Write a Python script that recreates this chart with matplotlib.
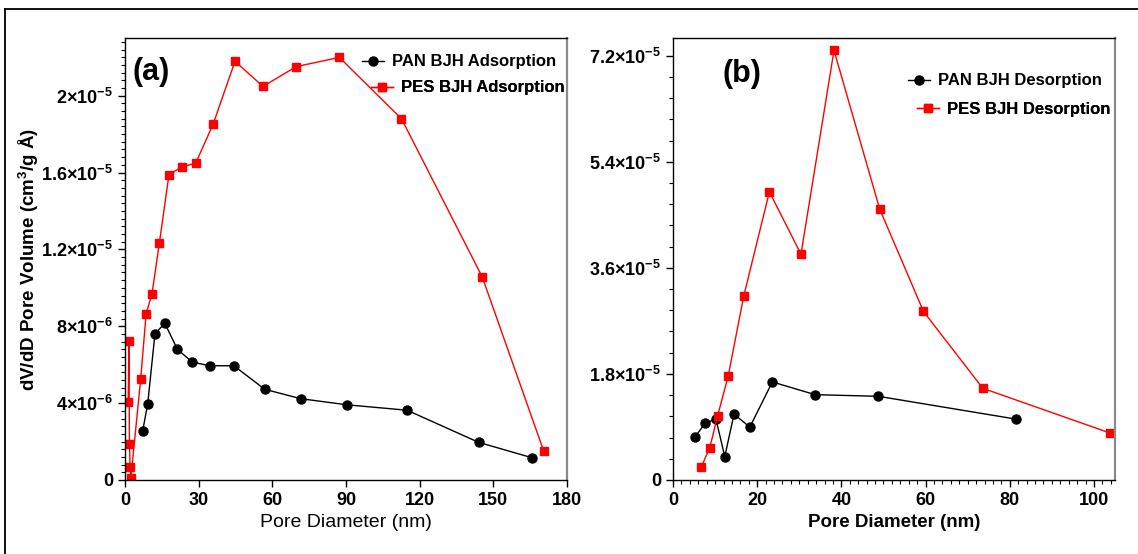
import numpy as np
import matplotlib
matplotlib.use("Agg")
import matplotlib.pyplot as plt
from matplotlib.ticker import MultipleLocator, FuncFormatter, NullLocator
from matplotlib.lines import Line2D

plt.rcParams['font.family'] = ['Liberation Sans', 'DejaVu Sans']
plt.rcParams['mathtext.fontset'] = 'custom'
plt.rcParams['mathtext.rm'] = 'Liberation Sans:bold'
plt.rcParams['mathtext.it'] = 'Liberation Sans:bold'
plt.rcParams['mathtext.bf'] = 'Liberation Sans:bold'

# (a) adsorption
pan_ads_d = [7.2, 9.25, 12.2, 16.2, 21.3, 27.4, 34.5, 44.4, 56.9, 71.6, 90.6, 114.9, 144.0, 165.7]
pan_ads_v = [2.55e-6, 3.97e-6, 7.6e-6, 8.16e-6, 6.81e-6, 6.13e-6, 5.95e-6, 5.94e-6,
             4.72e-6, 4.23e-6, 3.91e-6, 3.63e-6, 1.96e-6, 1.16e-6]
pes_ads_d = [1.3, 1.6, 1.8, 2.1, 2.4, 6.4, 8.6, 11.0, 14.0, 17.9, 23.1, 28.8, 35.9,
             44.8, 56.2, 69.7, 87.3, 112.6, 145.5, 170.5]
pes_ads_v = [4.08e-6, 7.24e-6, 1.87e-6, 0.69e-6, 0.12e-6, 5.26e-6, 8.65e-6, 9.70e-6,
             1.233e-5, 1.589e-5, 1.629e-5, 1.649e-5, 1.852e-5, 2.179e-5, 2.048e-5,
             2.151e-5, 2.199e-5, 1.880e-5, 1.056e-5, 1.51e-6]

# (b) desorption
pan_des_d = [5.25, 7.6, 10.2, 12.3, 14.5, 18.25, 23.6, 33.75, 48.8, 81.5]
pan_des_v = [7.32e-6, 9.6e-6, 1.033e-5, 3.97e-6, 1.119e-5, 8.97e-6, 1.664e-5,
             1.448e-5, 1.42e-5, 1.033e-5]
pes_des_d = [6.75, 8.75, 10.6, 13.1, 16.8, 22.9, 30.4, 38.25, 49.1, 59.5, 73.6, 103.7]
pes_des_v = [2.27e-6, 5.51e-6, 1.09e-5, 1.76e-5, 3.12e-5, 4.89e-5, 3.832e-5,
             7.29e-5, 4.598e-5, 2.86e-5, 1.556e-5, 8.0e-6]


def sci_fmt(v, pos):
    if abs(v) < 1e-12:
        return '0'
    e = int(np.floor(np.log10(abs(v)) + 1e-9))
    m = v / 10 ** e
    return '%g×10$^{%d}$' % (round(m, 2), e)


def style_axes(ax):
    for s in ['left', 'bottom', 'top']:
        ax.spines[s].set_color('black')
        ax.spines[s].set_linewidth(1.0)
    ax.spines['right'].set_color('#8a8a8a')
    ax.spines['right'].set_linewidth(1.6)
    ax.tick_params(direction='out', which='major', length=5, width=1, labelsize=13)
    ax.tick_params(direction='out', which='minor', length=3, width=0.8)
    ax.tick_params(top=False, right=False)
    for lab in ax.get_xticklabels() + ax.get_yticklabels():
        lab.set_fontweight('bold')
    ax.yaxis.set_major_formatter(FuncFormatter(sci_fmt))


def legend_entry(ax, handle, x, y):
    # Origin-style legend: each entry sits at its own spot
    leg = ax.legend(handles=[handle], loc='center left', bbox_to_anchor=(x, y),
                    frameon=False, handlelength=1.3, handletextpad=0.5,
                    borderpad=0, borderaxespad=0, prop={'weight': 'bold', 'size': 12})
    ax.add_artist(leg)


fig = plt.figure(figsize=(11.38, 5.54), dpi=100)
ax1 = fig.add_axes([125 / 1138, 1 - 480 / 554, 442 / 1138, 442 / 554])
ax2 = fig.add_axes([673 / 1138, 1 - 480 / 554, 442 / 1138, 442 / 554])

h1, = ax1.plot(pan_ads_d, pan_ads_v, '-o', color='black', lw=1, ms=6.5, label='PAN BJH Adsorption')
h2, = ax1.plot(pes_ads_d, pes_ads_v, '-s', color='#ff0000', lw=1, ms=6.3, label='PES BJH Adsorption')
ax1.set_xlim(0, 180)
ax1.set_ylim(0, 2.3e-5)
ax1.xaxis.set_major_locator(MultipleLocator(30))
ax1.xaxis.set_minor_locator(NullLocator())
ax1.yaxis.set_major_locator(MultipleLocator(4e-6))
ax1.yaxis.set_minor_locator(MultipleLocator(4e-7))
style_axes(ax1)
ax1.set_xlabel('Pore Diameter (nm)', fontsize=14, labelpad=4)
ax1.set_ylabel('dV/dD Pore Volume (cm$^3$/g Å)', fontsize=13.5, fontweight='bold')
ax1.yaxis.set_label_coords(-0.19, 0.5)
ax1.text(0.016, 0.923, '(a)', transform=ax1.transAxes, fontsize=22, fontweight='bold', va='center')
legend_entry(ax1, h1, 0.536, 0.946)
legend_entry(ax1, h2, 0.557, 0.887)

h3, = ax2.plot(pan_des_d, pan_des_v, '-o', color='black', lw=1, ms=6.5, label='PAN BJH Desorption')
h4, = ax2.plot(pes_des_d, pes_des_v, '-s', color='#ff0000', lw=1, ms=6.3, label='PES BJH Desorption')
ax2.set_xlim(0, 105)
ax2.set_ylim(0, 7.5e-5)
ax2.xaxis.set_major_locator(MultipleLocator(20))
ax2.xaxis.set_minor_locator(MultipleLocator(2))
ax2.yaxis.set_major_locator(MultipleLocator(1.8e-5))
ax2.yaxis.set_minor_locator(MultipleLocator(3.6e-6))
style_axes(ax2)
ax2.set_xlabel('Pore Diameter (nm)', fontsize=13.5, fontweight='bold', labelpad=4)
ax2.text(0.113, 0.919, '(b)', transform=ax2.transAxes, fontsize=22, fontweight='bold', va='center')
legend_entry(ax2, h3, 0.532, 0.903)
legend_entry(ax2, h4, 0.552, 0.839)

# outer frame
fig.add_artist(Line2D([5 / 1138, 5 / 1138], [0, 1 - 9 / 554], transform=fig.transFigure,
                      color='black', lw=1.3))
fig.add_artist(Line2D([5 / 1138, 1], [1 - 9 / 554, 1 - 9 / 554], transform=fig.transFigure,
                      color='black', lw=1.3))

fig.savefig('out.png', dpi=100)
